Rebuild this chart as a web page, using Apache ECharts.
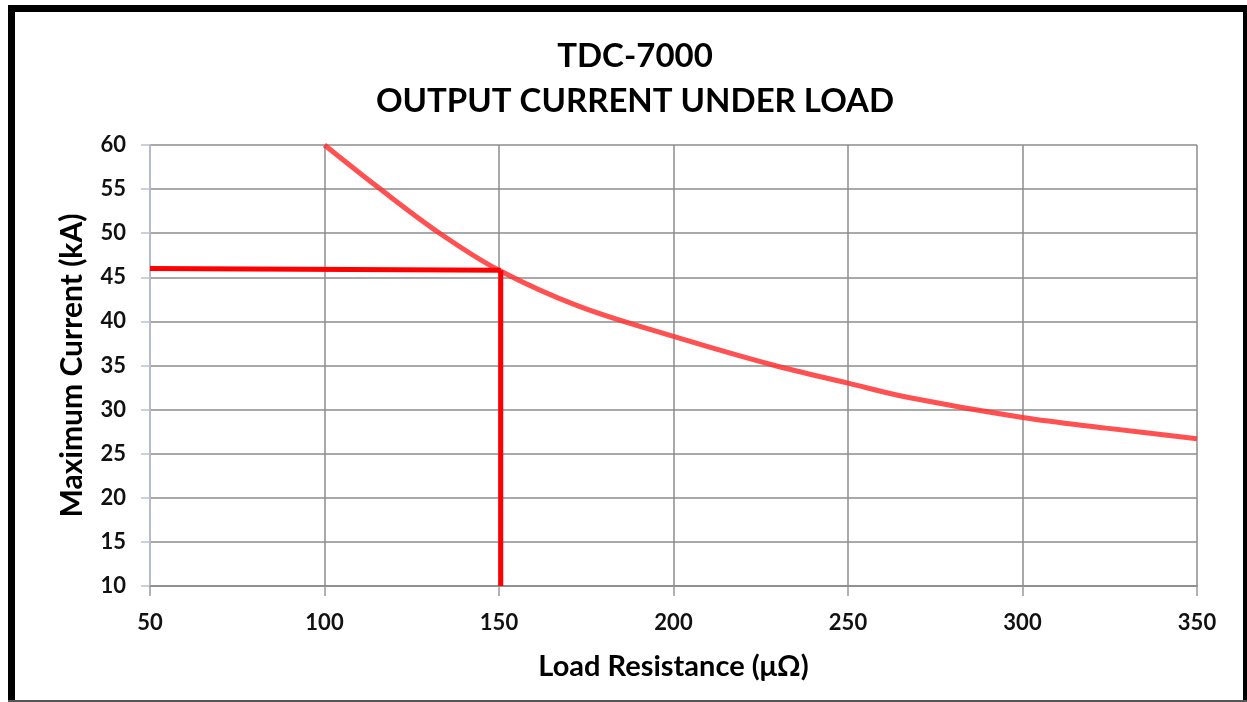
<!DOCTYPE html>
<html>
<head>
<meta charset="utf-8">
<script src="https://cdn.jsdelivr.net/npm/echarts@6/dist/echarts.min.js"></script>
<style>
html,body{margin:0;padding:0;background:#fff;}
#chart{position:absolute;left:0;top:0;width:1247px;height:702px;}
.b{position:absolute;pointer-events:none;}
</style>
</head>
<body>
<div id="chart"></div>
<div class="b" style="left:8px;top:5px;width:7px;height:697px;background:#000"></div>
<div class="b" style="left:8px;top:5px;width:1239px;height:7px;background:#000"></div>
<div class="b" style="left:1243px;top:5px;width:4px;height:697px;background:#000"></div>
<div class="b" style="left:8px;top:700px;width:1239px;height:2px;background:#555"></div>
<script>
const titleLines = ['TDC-7000', 'OUTPUT CURRENT UNDER LOAD'];
const xName = 'Load Resistance (μΩ)';
const yName = 'Maximum Current (kA)';
// Load resistance (μΩ) and maximum current (kA)
const resistance = [100, 116, 133, 150, 173, 200, 229, 250, 267, 300, 324, 350];
const current =    [60, 55, 50, 45.8, 41.7, 38.3, 35, 33, 31.4, 29.1, 27.9, 26.7];
// Red marker lines at 150 μΩ
const refHx = [50, 150.5];
const refHy = [46, 45.8];
const refVx = [150.5, 150.5];
const refVy = [45.8, 10];

const chart = echarts.init(document.getElementById('chart'));
const FONT = 'Lato';
chart.setOption({
  backgroundColor: 'transparent',
  animation: false,
  title: {
    text: titleLines.join('\n'),
    left: 630, top: 29, textAlign: 'center',
    textStyle: {fontFamily: FONT, fontWeight: 'bold', fontSize: 33, color: '#000', lineHeight: 45}
  },
  grid: {left: 150, right: 50, top: 145, bottom: 116},
  xAxis: {
    type: 'value', min: 50, max: 350, interval: 50,
    name: xName, nameLocation: 'middle', nameGap: 66,
    nameTextStyle: {fontFamily: FONT, fontWeight: 'bold', fontSize: 29, color: '#000'},
    axisLine: {lineStyle: {color: '#888', width: 1.5}},
    axisTick: {show: true, length: 10, lineStyle: {color: '#999', width: 1.5}},
    axisLabel: {fontFamily: FONT, fontWeight: 'bold', fontSize: 22, color: '#111', margin: 26},
    splitLine: {show: true, lineStyle: {color: '#8c8c8c', width: 1.5}}
  },
  yAxis: {
    type: 'value', min: 10, max: 60, interval: 5,
    name: yName, nameLocation: 'middle', nameGap: 63, nameRotate: 90,
    nameTextStyle: {fontFamily: FONT, fontWeight: 'bold', fontSize: 30, color: '#000'},
    axisLine: {show: true, lineStyle: {color: '#b8c2d4', width: 1.5}},
    axisTick: {show: true, length: 9, lineStyle: {color: '#b8c2d4', width: 1.5}},
    axisLabel: {fontFamily: FONT, fontWeight: 'bold', fontSize: 22, color: '#111', margin: 24},
    splitLine: {show: true, lineStyle: {color: '#8c8c8c', width: 1.5}}
  },
  series: [
    {
      type: 'line', smooth: 0.35, symbol: 'none',
      data: resistance.map((r, i) => [r, current[i]]),
      lineStyle: {color: 'rgba(255,50,50,0.85)', width: 5}, z: 3
    },
    {
      type: 'line', symbol: 'none',
      data: refHx.map((x, i) => [x, refHy[i]]),
      lineStyle: {color: '#ff0000', width: 5}, z: 4
    },
    {
      type: 'line', symbol: 'none',
      data: refVx.map((x, i) => [x, refVy[i]]),
      lineStyle: {color: '#ff0000', width: 5}, z: 4
    }
  ]
});
</script>
</body>
</html>
